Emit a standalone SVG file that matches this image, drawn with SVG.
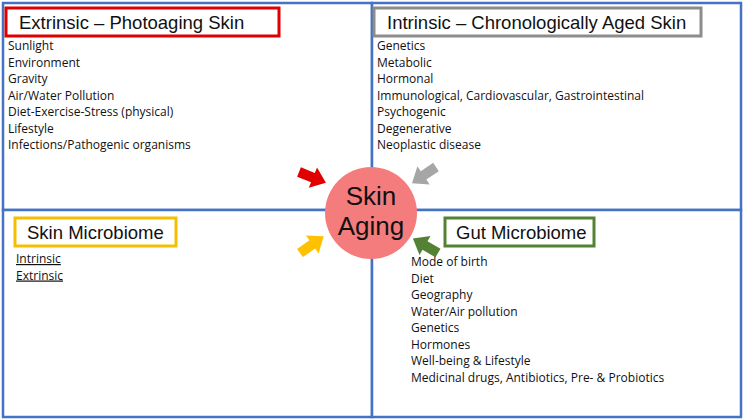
<svg xmlns="http://www.w3.org/2000/svg" width="744" height="420" viewBox="0 0 744 420">
<defs>
<style>
.q{fill:#fff;stroke:#4472C4;stroke-width:2.5}
.t{font-family:"Liberation Sans",Arial,sans-serif;font-size:18.5px;fill:#111}
.b{font-family:"Open Sans","Liberation Sans",sans-serif;font-size:12px;fill:#111}
.u{text-decoration:underline}
</style>
<polygon id="arr" points="0,-5 15,-5 15,-11 29,0 15,11 15,5 0,5"/>
</defs>
<g id="quadrants">
<rect class="q" x="3" y="3" width="369" height="207"/>
<rect class="q" x="372" y="3" width="369" height="207"/>
<rect class="q" x="3" y="210" width="369" height="207"/>
<rect class="q" x="372" y="210" width="369" height="207"/>
</g>
<g id="extrinsic">
<rect x="6" y="8" width="273" height="28" fill="#fff" stroke="#E00000" stroke-width="3"/>
<text class="t" x="19" y="29">Extrinsic – Photoaging Skin</text>
<text class="b" x="8" y="50">Sunlight</text>
<text class="b" x="8" y="66.5">Environment</text>
<text class="b" x="8" y="83">Gravity</text>
<text class="b" x="8" y="99.5">Air/Water Pollution</text>
<text class="b" x="8" y="116">Diet-Exercise-Stress (physical)</text>
<text class="b" x="8" y="132.5">Lifestyle</text>
<text class="b" x="8" y="149">Infections/Pathogenic organisms</text>
</g>
<g id="intrinsic">
<rect x="374" y="8" width="327" height="28" fill="#fff" stroke="#8C8C8C" stroke-width="3"/>
<text class="t" x="387" y="29">Intrinsic – Chronologically Aged Skin</text>
<text class="b" x="377" y="50">Genetics</text>
<text class="b" x="377" y="66.5">Metabolic</text>
<text class="b" x="377" y="83">Hormonal</text>
<text class="b" x="377" y="99.5">Immunological, Cardiovascular, Gastrointestinal</text>
<text class="b" x="377" y="116">Psychogenic</text>
<text class="b" x="377" y="132.5">Degenerative</text>
<text class="b" x="377" y="149">Neoplastic disease</text>
</g>
<g id="skin-microbiome">
<rect x="15" y="218" width="161" height="28" fill="#fff" stroke="#F5BE00" stroke-width="3"/>
<text class="t" x="27" y="239">Skin Microbiome</text>
<text class="b u" x="16" y="263">Intrinsic</text>
<text class="b u" x="16" y="279.5">Extrinsic</text>
</g>
<g id="gut-microbiome">
<rect x="445" y="218" width="149" height="28" fill="#fff" stroke="#548235" stroke-width="3"/>
<text class="t" x="456" y="239">Gut Microbiome</text>
<text class="b" x="411" y="266">Mode of birth</text>
<text class="b" x="411" y="282.5">Diet</text>
<text class="b" x="411" y="299">Geography</text>
<text class="b" x="411" y="315.5">Water/Air pollution</text>
<text class="b" x="411" y="332">Genetics</text>
<text class="b" x="411" y="348.5">Hormones</text>
<text class="b" x="411" y="365">Well-being &amp; Lifestyle</text>
<text class="b" x="411" y="381.5">Medicinal drugs, Antibiotics, Pre- &amp; Probiotics</text>
</g>
<g id="skin-aging">
<circle cx="371" cy="213" r="46" fill="#F47C7C"/>
<text x="371" y="205" text-anchor="middle" font-family="Liberation Sans,Arial,sans-serif" font-size="26" fill="#111">Skin</text>
<text x="371" y="235" text-anchor="middle" font-family="Liberation Sans,Arial,sans-serif" font-size="26" fill="#111">Aging</text>
</g>
<g id="connectors">
<use href="#arr" fill="#E00000" transform="translate(299,172) rotate(22)"/>
<use href="#arr" fill="#A6A6A6" transform="translate(436,167) rotate(146)"/>
<use href="#arr" fill="#FFC000" transform="translate(300,253) rotate(-35)"/>
<use href="#arr" fill="#548235" transform="translate(438,253) rotate(-150)"/>
</g>
</svg>
